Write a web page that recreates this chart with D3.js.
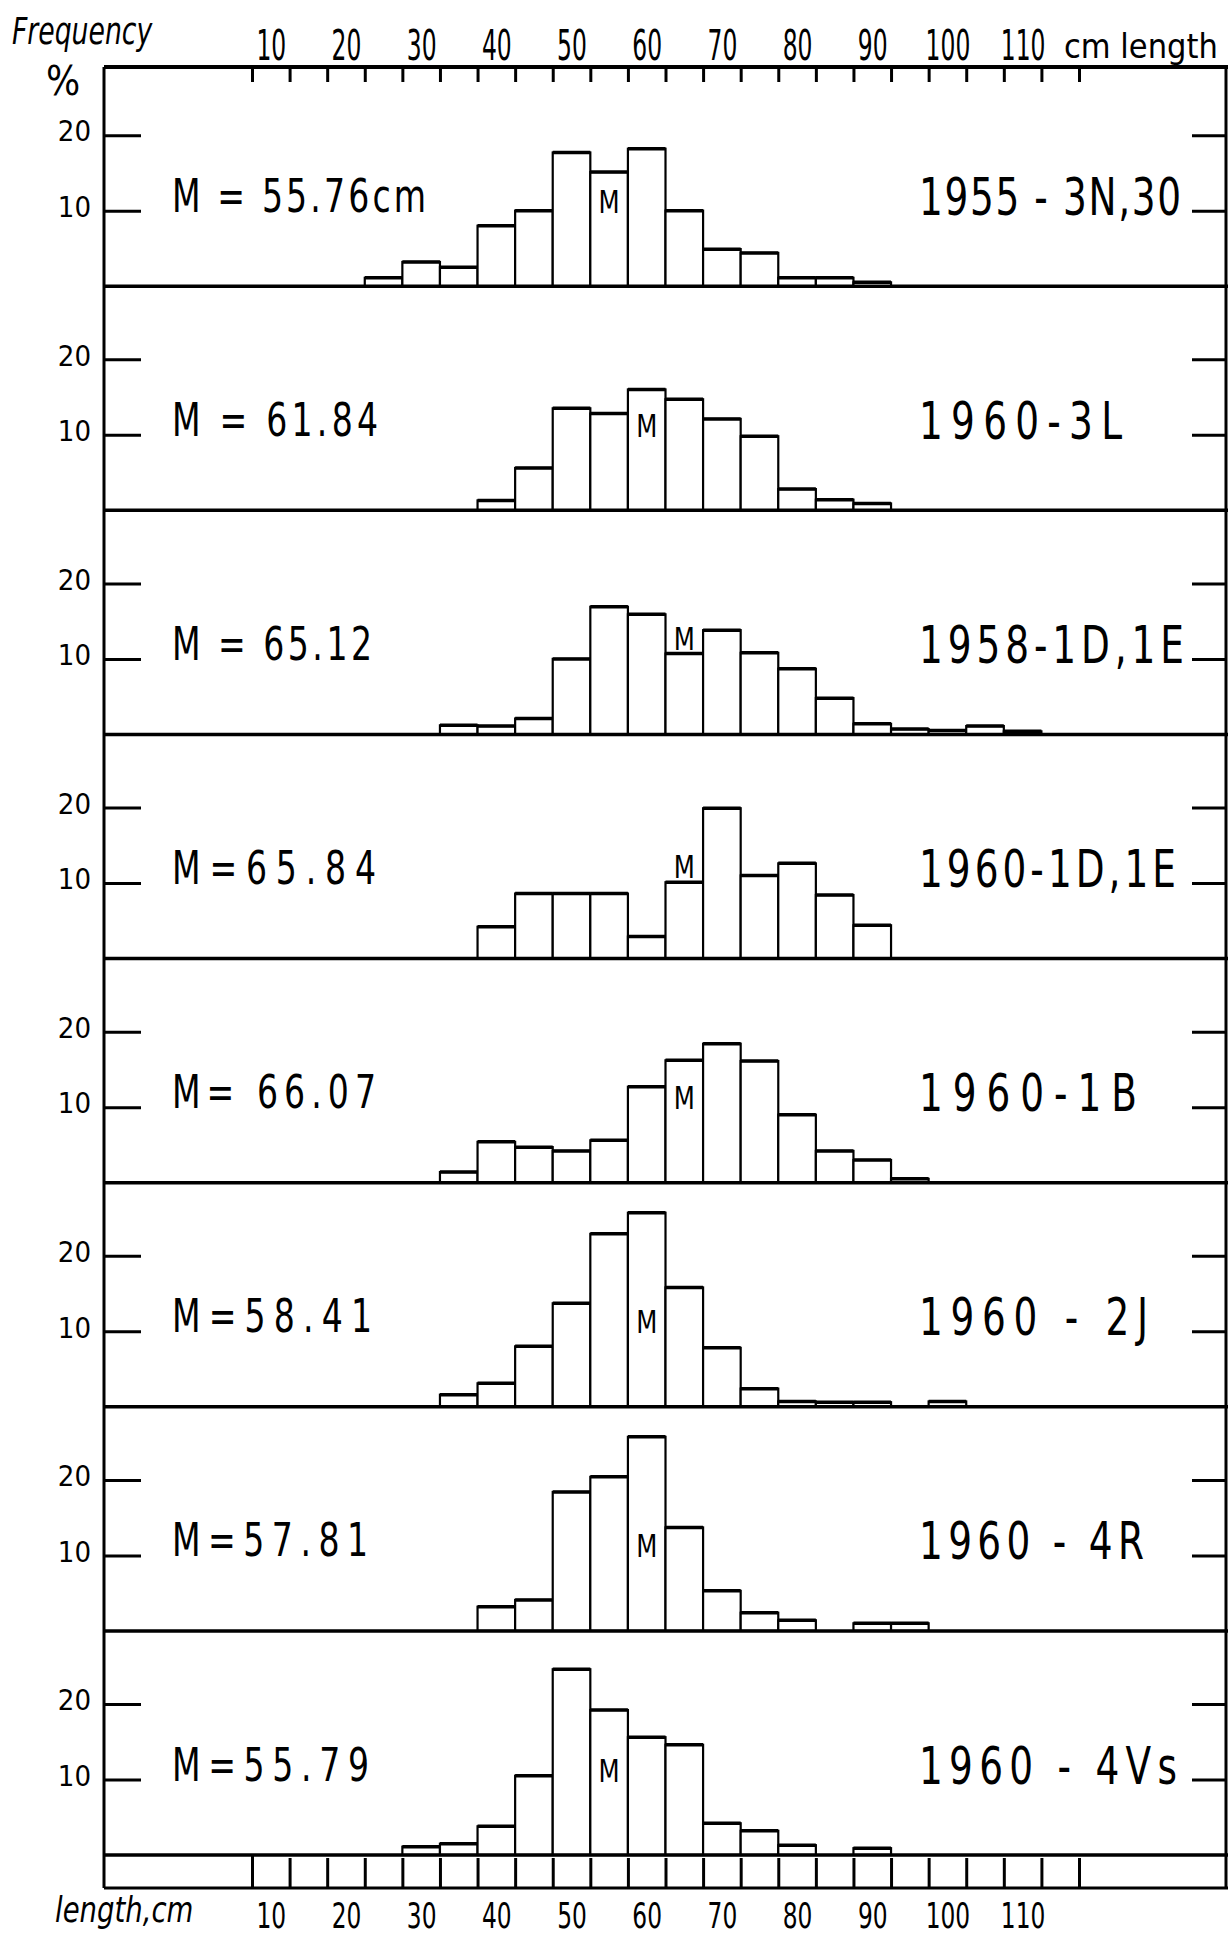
<!DOCTYPE html>
<html>
<head>
<meta charset="utf-8">
<title>Length frequency by sample</title>
<style>
    body { margin: 0; background: #fff; }
    svg { display: block; }
    text { font-family: "DejaVu Sans Condensed", "Liberation Sans Narrow", sans-serif; fill: #000; }
</style>
</head>
<body>
<script src="https://d3js.org/d3.v7.min.js"></script>
<svg></svg>
<script>

// length classes are 5 cm wide, named by their middle value
var panelNames = ["1955 - 3N,30", "1960-3L", "1958-1D,1E", "1960-1D,1E", "1960-1B", "1960 - 2J", "1960 - 4R", "1960 - 4Vs"];
var meanLabels = ["M = 55.76cm", "M = 61.84", "M = 65.12", "M=65.84", "M= 66.07", "M=58.41", "M=57.81", "M=55.79"];
var means = [55.76, 61.84, 65.12, 65.84, 66.07, 58.41, 57.81, 55.79];
var firstClass = [25, 40, 35, 40, 35, 35, 40, 30];

var f1955_3N30 = [1.1, 3.2, 2.5, 8.0, 10.0, 17.7, 15.1, 18.2, 10.0, 4.9, 4.4, 1.1, 1.1, 0.5];
var f1960_3L   = [1.3, 5.6, 13.5, 12.8, 16.0, 14.7, 12.1, 9.8, 2.8, 1.4, 0.9];
var f1958_1D1E = [1.2, 1.1, 2.1, 10.0, 16.9, 15.9, 10.7, 13.8, 10.8, 8.7, 4.8, 1.4, 0.7, 0.5, 1.1, 0.4];
var f1960_1D1E = [4.2, 8.6, 8.6, 8.6, 2.9, 10.1, 19.9, 11.0, 12.6, 8.4, 4.4];
var f1960_1B   = [1.4, 5.4, 4.7, 4.2, 5.6, 12.7, 16.2, 18.4, 16.1, 9.0, 4.2, 3.0, 0.5];
var f1960_2J   = [1.6, 3.1, 8.0, 13.7, 22.9, 25.7, 15.8, 7.8, 2.4, 0.7, 0.6, 0.6, 0, 0.7];
var f1960_4R   = [3.2, 4.1, 18.4, 20.4, 25.7, 13.7, 5.3, 2.4, 1.4, 0, 1.0, 1.0];
var f1960_4Vs  = [1.1, 1.5, 3.8, 10.5, 24.6, 19.2, 15.6, 14.6, 4.2, 3.2, 1.3, 0, 0.9];
var freqs = [f1955_3N30, f1960_3L, f1958_1D1E, f1960_1D1E, f1960_1B, f1960_2J, f1960_4R, f1960_4Vs];

var lengthTicks = [10, 20, 30, 40, 50, 60, 70, 80, 90, 100, 110];
var freqTicks = [10, 20];

var width = 1228, height = 1936;
var frame = {left: 104, right: 1226, top: 67, bottom: 1888};
// hand lettering is spread out differently on each row
var meanLabelWidth = [254, 206, 200, 204, 204, 200, 196, 197];
var nameLabelWidth = [262, 203, 265, 257, 218, 229, 225, 258];
var squeeze = 0.8;

var svg = d3.select("svg").attr("width", width).attr("height", height);

var x = d3.scaleLinear().domain([7.5, 117.5]).range([252, 1079]);
var edges = d3.range(7.5, 118, 5);

var panel = d3.scaleBand().domain(d3.range(panelNames.length)).range([62, 1855]);

// frame
svg.append("line").attr("x1", frame.left).attr("x2", frame.right + 2).attr("y1", frame.top).attr("y2", frame.top)
    .attr("stroke", "#000").attr("stroke-width", 4);
svg.append("line").attr("x1", frame.left).attr("x2", frame.left).attr("y1", frame.top).attr("y2", frame.bottom)
    .attr("stroke", "#000").attr("stroke-width", 3);
svg.append("line").attr("x1", frame.right).attr("x2", frame.right).attr("y1", frame.top).attr("y2", frame.bottom)
    .attr("stroke", "#000").attr("stroke-width", 3);

// top length axis
var topTicks = svg.append("g").attr("transform", "translate(0," + frame.top + ")")
    .call(d3.axisTop(x).tickValues(edges).tickSize(-15).tickFormat(""));
var topLabels = svg.append("g").attr("transform", "translate(0," + frame.top + ")")
    .call(d3.axisTop(x).tickValues(lengthTicks).tickSize(0).tickPadding(7));

// bottom length axis
var botTicks = svg.append("g").attr("transform", "translate(0," + frame.bottom + ")")
    .call(d3.axisBottom(x).tickValues(edges).tickSize(-30).tickFormat(""));
var botLabels = svg.append("g").attr("transform", "translate(0," + frame.bottom + ")")
    .call(d3.axisBottom(x).tickValues(lengthTicks).tickSize(0).tickPadding(14));

[topTicks, topLabels, botTicks, botLabels].forEach(function(a) {
    a.select(".domain").remove();
    a.selectAll(".tick line").attr("stroke", "#000").attr("stroke-width", 3);
});
topLabels.selectAll(".tick text").attr("font-size", 42).attr("font-family", null).attr("transform", "scale(0.62,1)");
botLabels.selectAll(".tick text").attr("font-size", 36).attr("font-family", null).attr("transform", "scale(0.72,1)");
botTicks.select(".tick line").attr("y2", -33);

svg.append("line").attr("x1", frame.left).attr("x2", frame.right + 2).attr("y1", frame.bottom).attr("y2", frame.bottom)
    .attr("stroke", "#000").attr("stroke-width", 3);

svg.append("text").attr("transform", "translate(12,44) scale(0.78,1)")
    .attr("font-size", 38).attr("font-style", "italic").text("Frequency");
svg.append("text").attr("x", 46).attr("y", 95).attr("font-size", 40).text("%");
svg.append("text").attr("x", 1064).attr("y", 58).attr("font-size", 34).text("cm length");
svg.append("text").attr("transform", "translate(55,1922) scale(0.85,1)")
    .attr("font-size", 36).attr("font-style", "italic").text("length,cm");

// panels
panelNames.forEach(function(name, i) {
    var base = panel(i) + panel.bandwidth();
    var y = d3.scaleLinear().domain([0, 10]).range([base, base - 75.5]);
    var rows = freqs[i].map(function(v, j) { return {c: firstClass[i] + 5 * j, v: v}; })
        .filter(function(d) { return d.v > 0; });

    var g = svg.append("g").attr("class", "panel");

    g.selectAll(".bar").data(rows).enter().append("rect")
        .attr("class", "bar")
        .attr("x", function(d) { return x(d.c - 2.5); })
        .attr("width", function(d) { return x(d.c + 2.5) - x(d.c - 2.5); })
        .attr("y", function(d) { return y(d.v); })
        .attr("height", function(d) { return base - y(d.v); })
        .attr("fill", "#fff").attr("stroke", "#000").attr("stroke-width", 2.2);

    g.selectAll(".top").data(rows).enter().append("line")
        .attr("class", "top")
        .attr("x1", function(d) { return x(d.c - 2.5); })
        .attr("x2", function(d) { return x(d.c + 2.5); })
        .attr("y1", function(d) { return y(d.v); })
        .attr("y2", function(d) { return y(d.v); })
        .attr("stroke", "#000").attr("stroke-width", 3.5);

    g.append("line").attr("x1", frame.left).attr("x2", frame.right + 2).attr("y1", base).attr("y2", base)
        .attr("stroke", "#000").attr("stroke-width", 3.5);

    var left = g.append("g").attr("transform", "translate(" + frame.left + ",0)")
        .call(d3.axisLeft(y).tickValues(freqTicks).tickSize(-37).tickPadding(13));
    var right = g.append("g").attr("transform", "translate(" + frame.right + ",0)")
        .call(d3.axisRight(y).tickValues(freqTicks).tickSize(-34).tickFormat(""));
    [left, right].forEach(function(a) {
        a.select(".domain").remove();
        a.selectAll(".tick line").attr("stroke", "#000").attr("stroke-width", 3);
    });
    left.selectAll(".tick text").attr("font-size", 29).attr("font-family", null).attr("dy", "0.2em");

    // mean class marker: inside a tall bar, sitting on a low one
    var mc = Math.round(means[i] / 5) * 5;
    var mRow = rows.find(function(d) { return d.c === mc; });
    var mv = mRow ? mRow.v : 0;
    g.append("text")
        .attr("transform", "translate(" + x(mc) + "," + (mv < 12 ? y(mv) - 4 : y(10) + 2) + ") scale(0.85,1)")
        .attr("text-anchor", "middle").attr("font-size", 32)
        .text("M");

    g.append("text")
        .attr("transform", "translate(172," + (y(10) + 1) + ") scale(" + squeeze + ",1)")
        .attr("font-size", 46)
        .attr("textLength", meanLabelWidth[i] / squeeze).attr("lengthAdjust", "spacing")
        .text(meanLabels[i]);
    g.append("text")
        .attr("transform", "translate(919," + (y(10) + 4) + ") scale(" + squeeze + ",1)")
        .attr("font-size", 52)
        .attr("textLength", nameLabelWidth[i] / squeeze).attr("lengthAdjust", "spacing")
        .text(name);
});

</script>
</body>
</html>
